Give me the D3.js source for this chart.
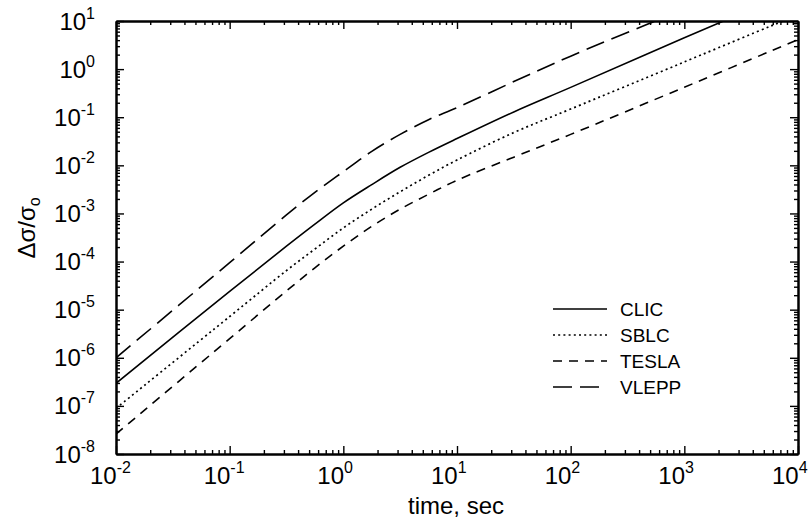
<!DOCTYPE html>
<html>
<head>
<meta charset="utf-8">
<script src="https://cdn.jsdelivr.net/npm/d3@7"></script>
<style>
  body { margin: 0; background: #fff; }
  svg { display: block; }
  text { font-family: "Liberation Sans", Arial, Helvetica, sans-serif; fill: #000; }
</style>
</head>
<body>
<svg id="chart" width="810" height="528"></svg>
<script>
// ---- data ----
const times = [0.01, 0.1, 0.316, 0.562, 1, 1.78, 3.16, 5.62, 10, 31.6, 100, 1000, 10000];
const clic  = [2.95e-7, 2.4e-5, 2.09e-4, 6.0e-4, 1.66e-3, 3.98e-3, 9.1e-3, 1.86e-2, 3.6e-2, 0.129, 0.417, 4.47, 45.7];
const sblc  = [8.9e-8, 7.2e-6, 6.5e-5, 1.82e-4, 5.0e-4, 1.23e-3, 2.82e-3, 6.2e-3, 1.29e-2, 4.8e-2, 0.148, 1.41, 13.5];
const tesla = [2.6e-8, 2.5e-6, 2.45e-5, 7.4e-5, 2.09e-4, 5.4e-4, 1.23e-3, 2.5e-3, 4.9e-3, 1.48e-2, 4.4e-2, 0.42, 4.1];
const vlepp = [1.0e-6, 9.5e-5, 9.3e-4, 2.75e-3, 7.4e-3, 1.95e-2, 4.4e-2, 8.9e-2, 0.158, 0.55, 1.86, 17.8, 170];
const seriesNames = ["CLIC", "SBLC", "TESLA", "VLEPP"];
const xTickExps = [-2, -1, 0, 1, 2, 3, 4];
const yTickExps = [1, 0, -1, -2, -3, -4, -5, -6, -7, -8];

const DOT = "2,3.2";
const series = [
  { name: seriesNames[0], values: clic,  dash: null },
  { name: seriesNames[1], values: sblc,  dash: DOT },
  { name: seriesNames[2], values: tesla, dash: "9,7" },
  { name: seriesNames[3], values: vlepp, dash: "19,8" }
];

const svg = d3.select("#chart");
const L = 116, R = 798, T = 21, B = 454;

const x = d3.scaleLog().domain([1e-2, 1e4]).range([L, R]);
const y = d3.scaleLog().domain([1e-8, 1e1]).range([B, T]);

svg.append("defs").append("clipPath").attr("id", "clip")
  .append("rect").attr("x", L).attr("y", T).attr("width", R - L).attr("height", B - T);

// minor tick values
const xMinor = [], yMinor = [];
for (let e = -2; e < 4; e++) for (let k = 2; k <= 9; k++) xMinor.push(k * Math.pow(10, e));
for (let e = -8; e < 1; e++) for (let k = 2; k <= 9; k++) yMinor.push(k * Math.pow(10, e));
const xMajor = xTickExps.map(e => Math.pow(10, e));
const yMajor = yTickExps.map(e => Math.pow(10, e));

function drawAxis(gen, transform, values, size) {
  const g = svg.append("g").attr("transform", transform)
    .call(gen.tickValues(values).tickSizeInner(size).tickSizeOuter(0).tickFormat(""));
  g.selectAll("path.domain").attr("stroke", "#000").attr("stroke-width", 2);
  g.selectAll("line").attr("stroke", "#000").attr("stroke-width", 1.4);
  return g;
}
drawAxis(d3.axisBottom(x), `translate(0,${B})`, xMinor, -4);
drawAxis(d3.axisBottom(x), `translate(0,${B})`, xMajor, -8);
drawAxis(d3.axisTop(x), `translate(0,${T})`, xMinor, -4);
drawAxis(d3.axisTop(x), `translate(0,${T})`, xMajor, -8);
drawAxis(d3.axisLeft(y), `translate(${L},0)`, yMinor, -4);
drawAxis(d3.axisLeft(y), `translate(${L},0)`, yMajor, -8);
drawAxis(d3.axisRight(y), `translate(${R},0)`, yMinor, -4);
drawAxis(d3.axisRight(y), `translate(${R},0)`, yMajor, -8);

// tick labels
const fs = 24, fsExp = 16;
xTickExps.forEach(e => {
  const t = svg.append("text")
    .attr("x", x(Math.pow(10, e)) - 26)
    .attr("y", 484)
    .attr("font-size", fs);
  t.append("tspan").text("10");
  t.append("tspan").attr("font-size", fsExp).attr("dy", -11).text(String(e));
});
yTickExps.forEach(e => {
  const t = svg.append("text")
    .attr("x", 95)
    .attr("y", y(Math.pow(10, e)) + 8.5)
    .attr("text-anchor", "end")
    .attr("font-size", fs);
  t.append("tspan").text("10");
  t.append("tspan").attr("font-size", fsExp).attr("dy", -11).text(String(e));
});

// axis titles
svg.append("text").attr("x", 456).attr("y", 514).attr("text-anchor", "middle")
  .attr("font-size", 24).text("time, sec");
const yl = svg.append("text").attr("transform", "translate(35,228) rotate(-90)")
  .attr("text-anchor", "middle").attr("font-size", 24);
yl.append("tspan").text("Δσ/σ");
yl.append("tspan").attr("font-size", 16).attr("dy", 5).text("o");

// lines
const line = d3.line()
  .x((d, i) => x(times[i]))
  .y(d => y(d))
  .curve(d3.curveCatmullRom.alpha(0.5));

const plot = svg.append("g").attr("clip-path", "url(#clip)");
series.forEach(s => {
  plot.append("path")
    .datum(s.values)
    .attr("d", line)
    .attr("fill", "none")
    .attr("stroke", "#000")
    .attr("stroke-width", s.dash === DOT ? 1.7 : 1.6)
    .attr("stroke-dasharray", s.dash);
});

// legend
const legY = [309, 335, 361, 387];
series.forEach((s, i) => {
  svg.append("line")
    .attr("x1", 553).attr("x2", 607)
    .attr("y1", legY[i]).attr("y2", legY[i])
    .attr("stroke", "#000")
    .attr("stroke-width", s.dash === DOT ? 1.7 : 1.6)
    .attr("stroke-dasharray", s.dash);
  svg.append("text").attr("x", 620).attr("y", legY[i] + 7)
    .attr("font-size", 19).text(s.name);
});
</script>
</body>
</html>
